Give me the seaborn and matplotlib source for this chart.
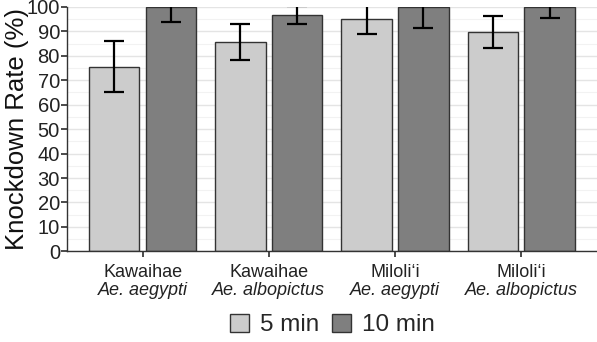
import numpy as np
import pandas as pd
import matplotlib
matplotlib.use('Agg')
import matplotlib.pyplot as plt
import seaborn as sns
from matplotlib.patches import Patch

# data
sites = ["Kawaihae", "Kawaihae", "Miloli\u2018i", "Miloli\u2018i"]
species = ["Ae. aegypti", "Ae. albopictus", "Ae. aegypti", "Ae. albopictus"]
times = ["5 min", "10 min"]
rate_5 = [75.5, 85.6, 95.1, 89.8]
rate_10 = [100.0, 96.7, 100.0, 100.0]
err_5 = [10.5, 7.2, 6.4, 6.6]
err_10 = [6.0, 3.7, 8.6, 4.7]

groups = [f"{s}\n{sp}" for s, sp in zip(sites, species)]
df = pd.DataFrame({
    "group": groups * 2,
    "time": ["5 min"] * 4 + ["10 min"] * 4,
    "rate": rate_5 + rate_10,
    "err": err_5 + err_10,
})

sns.set_theme(style="white")
plt.rcParams['font.family'] = ['Liberation Sans', 'DejaVu Sans']

fig, ax = plt.subplots(figsize=(5.97, 3.42), dpi=100)
fig.subplots_adjust(left=0.112, right=1.0, top=0.98, bottom=0.265)

ax.set_axisbelow(True)
ax.yaxis.set_minor_locator(matplotlib.ticker.MultipleLocator(5))
ax.grid(which='major', axis='both', color='#e4e4e4', linewidth=1.0)
ax.grid(which='minor', axis='y', color='#f2f2f2', linewidth=0.8)

palette = {"5 min": "#cccccc", "10 min": "#7f7f7f"}
sns.barplot(data=df, x="group", y="rate", hue="time", hue_order=times,
            palette=palette, width=0.9, gap=0.11, errorbar=None,
            edgecolor="#333333", linewidth=1.0, saturation=1, ax=ax, legend=False)

xs = np.arange(len(groups))
for off, r, e in [(-0.225, rate_5, err_5), (0.225, rate_10, err_10)]:
    ax.errorbar(xs + off, r, yerr=e, fmt='none', ecolor='black',
                elinewidth=1.6, capsize=7, capthick=1.6, zorder=5)

ax.set_xlim(-0.6, 3.6)
ax.set_ylim(0, 100)
ax.set_yticks(range(0, 101, 10))
ax.set_xlabel("")
ax.set_ylabel("Knockdown Rate (%)", fontsize=18.5, color='#111111')
ax.yaxis.label.set_va('center')
ax.yaxis.set_label_coords(-0.094, 0.5)

ax.set_xticks(xs)
ax.set_xticklabels([""] * 4)
for x, s, sp in zip(xs, sites, species):
    ax.text(x, -5.3, s, ha='center', va='top', fontsize=13, color='#222222')
    ax.text(x, -12.6, sp, ha='center', va='top', fontsize=13, style='italic',
            color='#222222')

ax.tick_params(axis='y', labelsize=14.5, labelcolor='#222222', length=4,
               color='#333333', left=True, pad=1)
ax.tick_params(axis='x', length=4, color='#333333', bottom=True)
for side in ['top', 'right']:
    ax.spines[side].set_visible(False)
for side in ['left', 'bottom']:
    ax.spines[side].set_color('#333333')
    ax.spines[side].set_linewidth(1.0)

handles = [Patch(facecolor=palette[t], edgecolor='#333333', label=t) for t in times]
fig.legend(handles=handles, loc='center', bbox_to_anchor=(0.557, 0.05),
           ncol=2, frameon=False, fontsize=17.5, handlelength=0.8, handleheight=0.8,
           handletextpad=0.45, columnspacing=0.5)

fig.savefig("out.png", dpi=100)
